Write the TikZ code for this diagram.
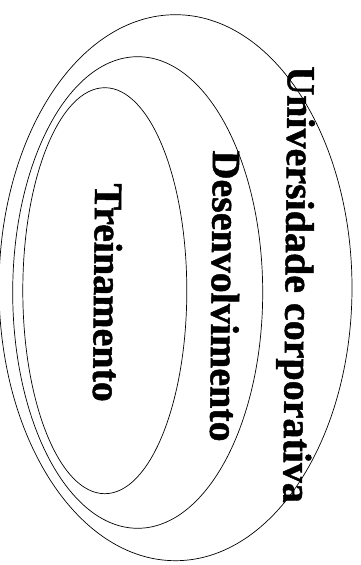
\documentclass[tikz,border=0pt]{standalone}
\usepackage{fontspec}
\setmainfont{Liberation Serif}
\newfontfamily\lblfont{Liberation Serif Bold}[FakeBold=1.2]
\begin{document}
\begin{tikzpicture}[x=1pt,y=1pt,
  ring/.style={draw=black,line width=0.7pt},
  lbl/.style={font=\lblfont\fontsize{40}{48}\selectfont,inner sep=0pt,anchor=base,rotate=-90.6}]
\useasboundingbox (0,0) rectangle (360,565);
\draw[ring] (175.5,277.3) ellipse [x radius=176.5pt, y radius=273pt];
\draw[ring] (137.7,272.5) ellipse [x radius=125pt, y radius=235.8pt];
\draw[ring] (104.8,274.3) ellipse [x radius=82pt, y radius=203pt];
\node[lbl] (uc) at (285.5,280.5) {Universidade corporativa};
\node[lbl] (de) at (211.5,269) {Desenvolvimento};
\node[lbl] (tr) at (94,272.5) {Treinamento};
\end{tikzpicture}
\end{document}
